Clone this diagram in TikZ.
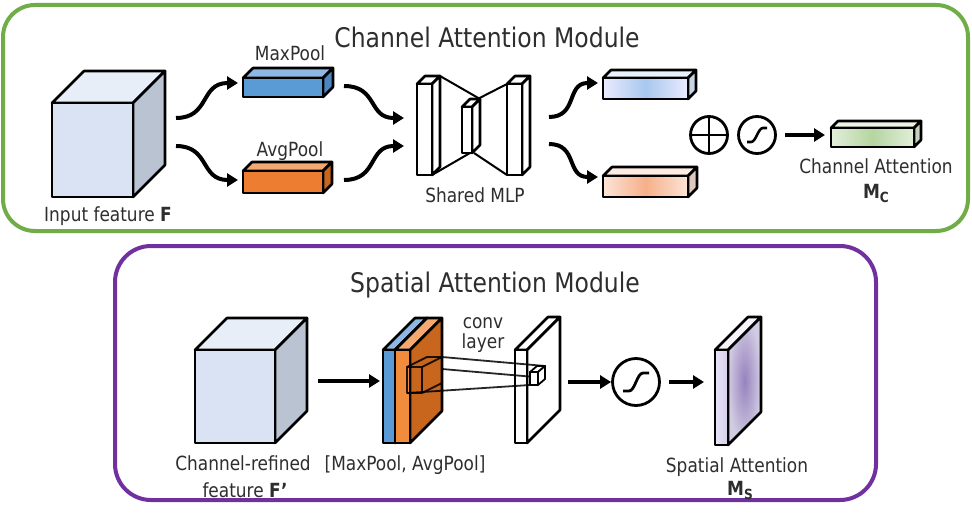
\documentclass[tikz,border=0pt]{standalone}
\usepackage{fontspec}
\setmainfont{DejaVu Sans}[FakeStretch=0.87]
\usetikzlibrary{arrows.meta}
\definecolor{grn}{HTML}{70AD47}
\definecolor{pur}{HTML}{7030A0}
\definecolor{txt}{HTML}{2E2E2E}
\definecolor{cF}{HTML}{DAE3F3}
\definecolor{cT}{HTML}{E8EEF8}
\definecolor{cS}{HTML}{BAC3D1}
\definecolor{cblue}{HTML}{5B9BD5}
\definecolor{cbluet}{HTML}{8DB8E4}
\definecolor{cblues}{HTML}{4A86C2}
\definecolor{corg}{HTML}{ED7D31}
\definecolor{corgt}{HTML}{F4A872}
\definecolor{corgs}{HTML}{C8661E}
\newcommand\cub[8]{%
  \path[cubeline,#7] (#1,#2) -- ++(#5,-#5) -- ++(#3,0) -- ++(-#5,#5) -- cycle;
  \path[cubeline,#8] ({#1+#3},#2) -- ++(#5,-#5) -- ++(0,#4) -- ++(-#5,#5) -- cycle;
  \path[cubeline,#6] (#1,#2) rectangle ++(#3,#4);
}
\begin{document}
\begin{tikzpicture}[x=1pt,y=-1pt,
  cubeline/.style={draw=black,line width=2.6pt,line join=round},
  thinline/.style={draw=black,line width=1.8pt,line join=round},
  arr/.style={line width=4pt,-{Triangle[length=11pt,width=13pt]}},
  lbl/.style={font=\fontsize{19.5}{22}\selectfont,text=txt,inner sep=0pt,anchor=base},
  ttl/.style={font=\fontsize{27}{30}\selectfont,text=txt,inner sep=0pt,anchor=base},
  opcirc/.style={circle,draw=black,line width=2.8pt,inner sep=0pt}]
\useasboundingbox (0,0) rectangle (972,516);
\fill[white] (0,0) rectangle (972,516);

% ---------- frames ----------
\draw[grn,line width=4pt,rounded corners=32pt] (3,5) rectangle (968,231);
\draw[pur,line width=4pt,rounded corners=36pt] (115,246) rectangle (876,500);

% ---------- Channel attention module ----------
\node[ttl] (t1) at (487,48) {Channel Attention Module};

% input cube F
\cub{52}{103}{81}{94}{32}{fill=cF}{fill=cT}{fill=cS}
\node[lbl] (lF) at (108,221) {Input feature \textbf{F}};

% MaxPool / AvgPool boxes
\cub{243}{78}{80}{19}{10}{fill=cblue}{fill=cbluet}{fill=cblues}
\cub{243}{171}{80}{22}{9}{fill=corg}{fill=corgt}{fill=corgs}
\node[lbl] (lmax) at (290,61) {MaxPool};
\node[lbl] (lavg) at (290,157) {AvgPool};

% shared MLP
\draw[thinline,line width=2pt] (440,76) -- (480,99);
\draw[thinline,line width=2pt] (507,84) -- (462,107);
\draw[thinline,line width=2pt] (432,175) -- (470,153);
\draw[thinline,line width=2pt] (474,153) -- (507,175);
\cub{417}{84}{15}{91}{8}{fill=white}{fill=white}{fill=white}
\cub{462}{107}{10}{46}{8}{fill=white}{fill=white}{fill=white}
\cub{507}{84}{15}{91}{8}{fill=white}{fill=white}{fill=white}
\node[lbl] (lmlp) at (475,202) {Shared MLP};

% output boxes
\cub{603}{78}{85}{21}{8}{left color=blue!8,right color=blue!8,middle color={rgb,255:red,168;green,200;blue,238}}{fill={rgb,255:red,234;green,241;blue,250}}{fill={rgb,255:red,200;green,212;blue,228}}
\cub{603}{176}{85}{21}{9}{left color={rgb,255:red,252;green,228;blue,214},right color={rgb,255:red,252;green,228;blue,214},middle color={rgb,255:red,246;green,176;blue,138}}{fill={rgb,255:red,252;green,236;blue,226}}{fill={rgb,255:red,222;green,200;blue,190}}
\cub{831}{128}{83}{19}{7}{left color={rgb,255:red,226;green,239;blue,218},right color={rgb,255:red,226;green,239;blue,218},middle color={rgb,255:red,181;green,213;blue,160}}{fill={rgb,255:red,236;green,244;blue,230}}{fill={rgb,255:red,196;green,210;blue,190}}

% operators
\node[opcirc,minimum size=37pt] (plus) at (709,135) {};
\draw[line width=2.8pt] (plus.north) -- (plus.south) (plus.west) -- (plus.east);
\node[opcirc,minimum size=37pt] (sig1) at (757,135) {};
\draw[line width=2.6pt] ([shift={(-10,7)}]sig1.center) -- ++(4,0) .. controls ++(5,0) and ++(-5,0) .. ++(12,-14) -- ++(4,0);

\node[lbl] (lca) at (876,174) {Channel Attention};
\node[lbl] (lmc) at (876,198) {\textbf{M}\raisebox{-4pt}{\fontsize{14}{14}\selectfont\bfseries C}};

% arrows (top)
\coordinate (a1) at (176,118); \coordinate (a1e) at (238,83);
\coordinate (a2) at (176,146); \coordinate (a2e) at (238,180);
\coordinate (a3) at (344,86);  \coordinate (a3e) at (404,118);
\coordinate (a4) at (344,180); \coordinate (a4e) at (404,146);
\coordinate (a5) at (549,117); \coordinate (a5e) at (598,83);
\coordinate (a6) at (549,144); \coordinate (a6e) at (598,177);
\coordinate (gin) at (825,135);
\draw[arr] (a1) .. controls (210,118) and (200,83) .. (a1e);
\draw[arr] (a2) .. controls (210,146) and (200,180) .. (a2e);
\draw[arr] (a3) .. controls (378,86) and (368,118) .. (a3e);
\draw[arr] (a4) .. controls (378,180) and (368,146) .. (a4e);
\draw[arr] (a5) .. controls (578,117) and (566,83) .. (a5e);
\draw[arr] (a6) .. controls (578,144) and (566,177) .. (a6e);
\draw[arr] (sig1.east) ++(8,0) coordinate (s1o) -- (gin);

% ---------- Spatial attention module ----------
\node[ttl] (t2) at (495,292) {Spatial Attention Module};

\cub{195}{350}{80}{93}{32}{fill=cF}{fill=cT}{fill=cS}
\node[lbl] (lcr1) at (243,470) {Channel-refined};
\node[lbl] (lcr2) at (245,497) {feature \textbf{F’}};

% concat block
\cub{383}{350}{12}{93}{32}{fill=cblue}{fill=cbluet}{fill=cblue}
\cub{395}{350}{15}{93}{32}{fill={rgb,255:red,240;green,140;blue,60}}{fill=corgt}{fill=corgs}
\node[lbl] (lcat) at (405,470) {[MaxPool, AvgPool]};

% conv layer slab
\cub{515}{350}{12}{93}{33}{fill=white}{fill=white}{fill=white}
\node[lbl] (lconv) at (483,328) {conv};
\node[lbl] (llay) at (483,348) {layer};

% receptive field cube and lines
\draw[thinline,opacity=.85] (407,367) rectangle ++(15,26);
\draw[thinline,opacity=.85] (407,367) -- ++(20,-10) -- ++(15,0) -- ++(0,26) -- ++(-20,10);
\draw[thinline,opacity=.85] (422,367) -- ++(20,-10);
\draw[thinline,opacity=.85] (442,357) -- (545,366);
\draw[thinline,opacity=.85] (442,369) -- (535,377);
\draw[thinline,opacity=.85] (407,393) -- (530,385);
\path[thinline,fill=white] (530,372) -- ++(7,-6) -- ++(8,0) -- ++(-7,6) -- cycle;
\path[thinline,fill=white] (538,372) -- ++(7,-6) -- ++(0,13) -- ++(-7,6) -- cycle;
\path[thinline,fill=white] (530,372) rectangle ++(8,13);

% sigmoid and output
\node[opcirc,minimum size=47pt] (sig2) at (636,382) {};
\draw[line width=2.8pt] ([shift={(-13,9)}]sig2.center) -- ++(6,0) .. controls ++(6,0) and ++(-6,0) .. ++(14,-18) -- ++(6,0);

\cub{715}{350}{13}{95}{33}{left color={rgb,255:red,232;green,228;blue,246},right color={rgb,255:red,214;green,206;blue,236}}{fill={rgb,255:red,246;green,244;blue,250}}{inner color={rgb,255:red,150;green,130;blue,190},outer color={rgb,255:red,210;green,204;blue,226}}
\node[lbl] (lsa) at (737,472) {Spatial Attention};
\node[lbl] (lms) at (740,495) {\textbf{M}\raisebox{-4pt}{\fontsize{14}{14}\selectfont\bfseries S}};

\coordinate (b1) at (318,381); \coordinate (b1e) at (380,381);
\coordinate (b2) at (568,382);
\coordinate (b3e) at (704,382);
\draw[arr] (b1) -- (b1e);
\draw[arr] (b2) -- (sig2.west);
\draw[arr] (sig2.east) ++(8,0) coordinate (s2o) -- (b3e);
\end{tikzpicture}
\end{document}
